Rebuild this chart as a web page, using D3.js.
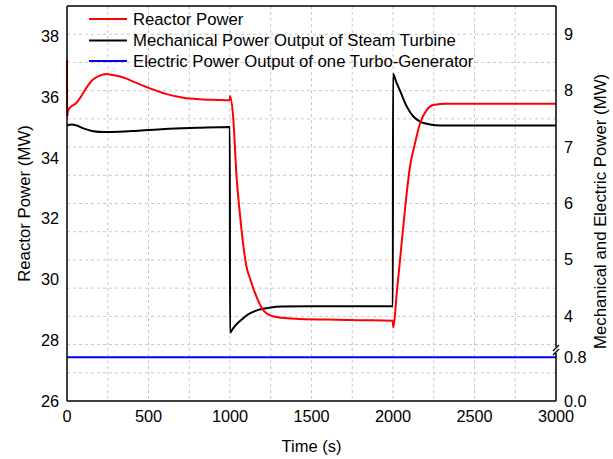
<!DOCTYPE html>
<html>
<head>
<meta charset="utf-8">
<script src="https://cdn.jsdelivr.net/npm/d3@7"></script>
<style>
  html, body { margin: 0; padding: 0; background: #fff; }
  svg { display: block; font-family: "Liberation Sans", Arial, sans-serif; }
</style>
</head>
<body>
<svg id="chart" width="613" height="459"></svg>
<script>
// Reactor power (left axis, MW) over time (s)
const reactorTime = [0, 1, 6, 25, 55, 86, 117, 158, 198, 239, 280, 362, 407, 509, 612, 714, 816, 918, 999,
  1000, 1020, 1040, 1060, 1080, 1100, 1125, 1150, 1175, 1200, 1225, 1250, 1300, 1400, 1600, 1800, 1998,
  2002, 2023, 2043, 2063, 2084, 2104, 2135, 2166, 2207, 2247, 2329, 2600, 3000];
const reactorMW = [37.22, 35.36, 35.55, 35.69, 35.80, 36.02, 36.29, 36.57, 36.70, 36.76, 36.73, 36.62, 36.51, 36.29, 36.10, 35.98, 35.93, 35.91, 35.90,
  36.04, 35.30, 33.40, 32.20, 31.20, 30.45, 30.00, 29.60, 29.28, 29.02, 28.88, 28.81, 28.75, 28.71, 28.68, 28.66, 28.64,
  28.42, 29.55, 30.64, 31.74, 32.84, 33.71, 34.48, 35.14, 35.58, 35.74, 35.78, 35.78, 35.78];

// Mechanical power output of the steam turbine (right axis, MW)
const turbineTime = [0, 30, 60, 100, 160, 230, 320, 420, 600, 800, 999,
  1000, 1020, 1045, 1072, 1110, 1153, 1200, 1250, 1317, 1500, 1999,
  2000, 2020, 2043, 2084, 2125, 2166, 2227, 2290, 2600, 3000];
const turbineMW = [7.38, 7.40, 7.38, 7.33, 7.28, 7.265, 7.27, 7.285, 7.32, 7.34, 7.355,
  3.71, 3.79, 3.87, 3.94, 4.03, 4.09, 4.13, 4.155, 4.17, 4.175, 4.175,
  8.30, 8.15, 8.00, 7.72, 7.54, 7.45, 7.40, 7.38, 7.38, 7.38];

// Electric power output of one turbo-generator (right axis, MW)
const generatorTime = [0, 3000];
const generatorMW = [0.8, 0.8];

// Tick labels
const timeTicks = [0, 500, 1000, 1500, 2000, 2500, 3000];
const reactorTicks = [26, 28, 30, 32, 34, 36, 38];
const turbineTicksUpper = [4, 5, 6, 7, 8, 9];
const turbineTicksLower = [0.0, 0.8];

const legendLabels = ["Reactor Power", "Mechanical Power Output of Steam Turbine", "Electric Power Output of one Turbo-Generator"];
const seriesColors = ["#ff0000", "#000000", "#0000ff"];

const plot = { left: 67, right: 556, top: 6, bottom: 401 };
const breakY = 350;

const svg = d3.select("#chart");

const x = d3.scaleLinear().domain([0, 3000]).range([plot.left, plot.right]);
const yLeft = d3.scaleLinear().domain([26, 39]).range([plot.bottom, plot.top]);
// Broken right axis: 0 – 0.93 below the break, 3.4 – 9.5 above it
const yRight = d3.scaleLinear().domain([0, 0.93, 3.4, 9.5]).range([plot.bottom, breakY, breakY, plot.top]);
const gridY = d3.scaleLinear().domain([0, 14]).range([plot.bottom, plot.top]);

// grid
const grid = svg.append("g").attr("stroke", "#c8c8c8").attr("stroke-width", 1).attr("stroke-dasharray", "3,3");
d3.range(250, 3000, 250).forEach(t => {
  grid.append("line").attr("x1", x(t)).attr("x2", x(t)).attr("y1", plot.top).attr("y2", plot.bottom);
});
d3.range(1, 14).forEach(k => {
  grid.append("line").attr("x1", plot.left).attr("x2", plot.right).attr("y1", gridY(k)).attr("y2", gridY(k));
});

// series
function series(times, values, yScale, color) {
  const pts = times.map((t, i) => [t, values[i]]);
  const line = d3.line().x(d => x(d[0])).y(d => yScale(d[1])).curve(d3.curveMonotoneX);
  svg.append("path").datum(pts).attr("d", line)
    .attr("fill", "none").attr("stroke", color).attr("stroke-width", 2).attr("stroke-linejoin", "round");
}
series(generatorTime, generatorMW, yRight, seriesColors[2]);
series(turbineTime, turbineMW, yRight, seriesColors[1]);
series(reactorTime, reactorMW, yLeft, seriesColors[0]);

// frame
const frame = svg.append("g").attr("stroke", "#000").attr("stroke-width", 1.5).attr("fill", "none");
frame.append("line").attr("x1", plot.left).attr("x2", plot.right).attr("y1", plot.top).attr("y2", plot.top);
frame.append("line").attr("x1", plot.left).attr("x2", plot.right).attr("y1", plot.bottom).attr("y2", plot.bottom);
frame.append("line").attr("x1", plot.left).attr("x2", plot.left).attr("y1", plot.top).attr("y2", plot.bottom);
frame.append("line").attr("x1", plot.right).attr("x2", plot.right).attr("y1", plot.top).attr("y2", breakY - 3);
frame.append("line").attr("x1", plot.right).attr("x2", plot.right).attr("y1", breakY + 3).attr("y2", plot.bottom);
// axis break marks
frame.append("line").attr("x1", plot.right - 3).attr("x2", plot.right + 3).attr("y1", breakY + 1).attr("y2", breakY - 5).attr("stroke-width", 1.2);
frame.append("line").attr("x1", plot.right - 3).attr("x2", plot.right + 3).attr("y1", breakY + 5).attr("y2", breakY - 1).attr("stroke-width", 1.2);

// tick labels
const tickFont = 16.3;
const labels = svg.append("g").attr("font-size", tickFont).attr("fill", "#000");
timeTicks.forEach(t => {
  labels.append("text").attr("x", x(t)).attr("y", 422).attr("text-anchor", "middle").text(t);
});
reactorTicks.forEach(v => {
  labels.append("text").attr("x", plot.left - 8).attr("y", yLeft(v)).attr("dy", "0.35em")
    .attr("text-anchor", "end").text(v);
});
turbineTicksUpper.forEach(v => {
  labels.append("text").attr("x", plot.right + 8).attr("y", yRight(v)).attr("dy", "0.35em").text(v);
});
turbineTicksLower.forEach(v => {
  labels.append("text").attr("x", plot.right + 8).attr("y", yRight(v)).attr("dy", "0.35em").text(v.toFixed(1));
});

// axis titles
svg.append("text").attr("x", (plot.left + plot.right) / 2).attr("y", 452).attr("text-anchor", "middle")
  .attr("font-size", 16.5).text("Time (s)");
svg.append("text").attr("transform", `translate(24,${(plot.top + plot.bottom) / 2}) rotate(-90)`)
  .attr("text-anchor", "middle").attr("dy", "0.35em").attr("font-size", 16.8).text("Reactor Power (MW)");
svg.append("text").attr("transform", `translate(600,${(plot.top + plot.bottom) / 2 + 8}) rotate(-90)`)
  .attr("text-anchor", "middle").attr("dy", "0.35em").attr("font-size", 16.8).text("Mechanical and Electric Power (MW)");

// legend
const legendY = [19, 40.5, 61];
legendLabels.forEach((name, i) => {
  svg.append("line").attr("x1", 89).attr("x2", 127).attr("y1", legendY[i]).attr("y2", legendY[i])
    .attr("stroke", seriesColors[i]).attr("stroke-width", 2);
  svg.append("text").attr("x", 133).attr("y", legendY[i]).attr("dy", "0.35em")
    .attr("font-size", 16.7).text(name);
});
</script>
</body>
</html>
